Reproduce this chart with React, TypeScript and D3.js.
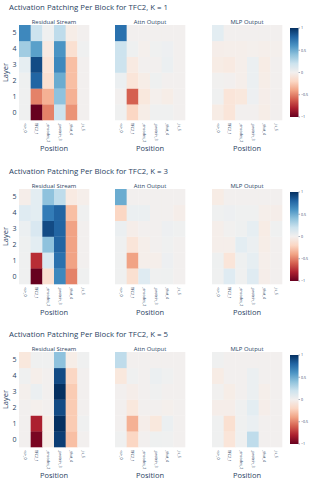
import React from "react";
import * as d3 from "d3";

const W = 314;
const H = 487;

const titles = [
  "Activation Patching Per Block for TFC2, K = 1",
  "Activation Patching Per Block for TFC2, K = 3",
  "Activation Patching Per Block for TFC2, K = 5",
];
const panelTitles = ["Residual Stream", "Attn Output", "MLP Output"];
const positions = ["<s>_0", "TFC2_1", "_encodes_2", "_protein_3", "_that_4", "_is_5"];
const layers = [0, 1, 2, 3, 4, 5];
const cbTicks = [1, 0.5, 0, -0.5, -1];

// rows: layer 0 .. layer 5
const resid1 = [
  [0.02, -1.0, -0.5, 0.2, -0.45, 0.0],
  [0.02, -0.5, -0.35, 0.4, -0.35, 0.0],
  [0.03, 0.8, -0.15, 0.5, -0.3, 0.0],
  [0.08, 0.9, -0.12, 0.65, -0.3, 0.0],
  [0.35, 0.55, -0.08, 0.6, -0.15, 0.02],
  [0.65, 0.2, 0.02, 0.25, -0.05, 0.0],
];
const attn1 = [
  [0.02, -0.2, -0.05, 0.02, 0.02, 0.0],
  [0.0, -0.6, -0.1, -0.02, -0.05, 0.0],
  [0.05, -0.12, -0.05, 0.03, 0.0, 0.0],
  [0.2, -0.08, 0.0, 0.0, 0.05, 0.0],
  [0.2, 0.03, -0.02, 0.02, 0.04, 0.0],
  [0.75, 0.0, 0.0, 0.0, 0.0, 0.0],
];
const mlp1 = [
  [-0.06, -0.12, 0.0, 0.0, -0.05, 0.0],
  [0.02, -0.12, -0.1, 0.04, -0.04, 0.0],
  [0.01, 0.0, -0.03, 0.05, -0.05, 0.0],
  [-0.06, -0.08, -0.03, 0.05, -0.06, 0.0],
  [-0.04, -0.03, -0.03, -0.02, -0.03, -0.02],
  [0.1, 0.0, 0.0, 0.0, 0.0, 0.0],
];

const resid3 = [
  [0.02, -1.0, -0.15, 0.65, -0.5, 0.02],
  [0.02, -0.75, 0.15, 0.75, -0.4, 0.0],
  [0.03, 0.1, 0.4, 0.8, -0.4, 0.0],
  [0.05, 0.15, 0.9, 0.8, -0.4, 0.0],
  [0.12, 0.1, 0.7, 0.8, -0.3, 0.02],
  [-0.04, 0.1, 0.4, 0.25, -0.08, -0.03],
];
const attn3 = [
  [0.02, -0.15, 0.12, 0.02, 0.03, 0.0],
  [0.02, -0.4, -0.03, -0.03, 0.04, 0.0],
  [0.02, -0.12, -0.03, 0.0, 0.02, 0.0],
  [0.05, -0.04, 0.0, 0.0, 0.04, 0.02],
  [-0.2, 0.05, 0.05, 0.0, 0.0, -0.04],
  [0.5, 0.0, 0.0, 0.0, 0.0, 0.0],
];
const mlp3 = [
  [0.02, 0.12, 0.02, 0.12, -0.04, 0.0],
  [0.03, -0.12, 0.03, 0.08, -0.03, 0.0],
  [-0.03, -0.03, 0.1, 0.05, -0.05, 0.0],
  [-0.03, 0.01, 0.03, 0.08, -0.06, 0.02],
  [0.02, 0.04, 0.02, 0.02, -0.03, -0.04],
  [-0.06, 0.0, 0.0, 0.0, 0.0, 0.0],
];

const resid5 = [
  [0.0, -0.95, -0.05, 0.95, -0.3, 0.0],
  [0.0, -0.8, -0.05, 1.05, -0.25, 0.02],
  [0.0, -0.02, 0.0, 0.9, -0.25, 0.0],
  [-0.02, 0.05, 0.0, 1.0, -0.25, 0.0],
  [0.02, -0.03, 0.0, 0.9, -0.2, 0.0],
  [-0.1, 0.02, 0.02, 0.4, -0.05, 0.02],
];
const attn5 = [
  [0.02, -0.2, 0.0, 0.03, 0.02, 0.0],
  [0.0, -0.35, -0.04, -0.1, 0.05, 0.0],
  [0.0, -0.1, 0.0, 0.0, -0.02, 0.0],
  [0.0, -0.04, 0.0, 0.02, 0.0, 0.0],
  [-0.1, 0.02, 0.0, 0.05, 0.02, 0.0],
  [0.25, 0.0, 0.0, 0.0, 0.0, 0.0],
];
const mlp5 = [
  [0.02, -0.12, 0.02, 0.25, 0.0, 0.0],
  [0.02, -0.15, 0.02, 0.06, 0.0, 0.0],
  [-0.04, -0.04, 0.02, 0.1, -0.04, 0.0],
  [0.01, -0.05, 0.0, 0.05, -0.03, 0.0],
  [-0.06, 0.0, 0.0, 0.05, 0.0, 0.0],
  [0.02, 0.0, 0.0, 0.0, 0.0, 0.0],
];

const figures = [
  [resid1, attn1, mlp1],
  [resid3, attn3, mlp3],
  [resid5, attn5, mlp5],
];

const figTops = [0, 164, 327];
const panelX: [number, number][] = [
  [19, 89],
  [115, 185],
  [212, 282],
];
const HM_TOP = 25;
const HM_BOT = 120;
const FONT = "'Open Sans', sans-serif";
const TXT = "#2a3f5f";

const color = d3.scaleSequential(d3.interpolateRdBu).domain([-1, 1]);

function Figure({ idx }: { idx: number }) {
  const top = figTops[idx];
  const data = figures[idx];
  const y = d3.scaleBand<number>().domain([...layers].reverse()).range([HM_TOP, HM_BOT]);
  const cbY = d3.scaleLinear().domain([-1, 1]).range([117, 28]);
  const gid = `cb${idx}`;
  return (
    <g transform={`translate(0,${top})`} fontFamily={FONT}>
      <defs>
        <linearGradient id={gid} x1="0" y1="1" x2="0" y2="0">
          {d3.range(0, 1.0001, 0.1).map((t) => (
            <stop key={t} offset={t} stopColor={color(-1 + 2 * t)} />
          ))}
        </linearGradient>
      </defs>
      <text x={9} y={9.5} fontSize={7.8} fill={TXT}>
        {titles[idx]}
      </text>
      <text
        transform={`translate(7.5,${(HM_TOP + HM_BOT) / 2}) rotate(-90)`}
        textAnchor="middle"
        fontSize={7.5}
        fill={TXT}
      >
        Layer
      </text>
      {layers.map((l) => (
        <text
          key={l}
          x={16.5}
          y={(y(l) as number) + y.bandwidth() / 2 + 2.5}
          textAnchor="end"
          fontSize={7}
          fill={TXT}
        >
          {l}
        </text>
      ))}
      {data.map((mat, p) => {
        const x = d3.scaleBand<string>().domain(positions).range(panelX[p]);
        const cx = (panelX[p][0] + panelX[p][1]) / 2;
        return (
          <g key={p}>
            <text x={cx} y={23.5} textAnchor="middle" fontSize={5.9} fill={TXT}>
              {panelTitles[p]}
            </text>
            {mat.map((row, li) =>
              row.map((v, ci) => (
                <rect
                  key={`${li}-${ci}`}
                  x={x(positions[ci])}
                  y={y(layers[li])}
                  width={x.bandwidth() + 0.3}
                  height={y.bandwidth() + 0.3}
                  fill={color(Math.max(-1, Math.min(1, v)))}
                />
              ))
            )}
            {positions.map((pos) => (
              <text
                key={pos}
                transform={`translate(${(x(pos) as number) + x.bandwidth() / 2 - 1.2},${HM_BOT + 3}) rotate(90)`}
                fontSize={3.6}
                fill={TXT}
                textAnchor="start"
              >
                {pos}
              </text>
            ))}
            <text x={cx} y={150.5} textAnchor="middle" fontSize={7.5} fill={TXT}>
              Position
            </text>
          </g>
        );
      })}
      <rect x={290} y={28} width={8.5} height={89} fill={`url(#${gid})`} />
      {cbTicks.map((t) => (
        <g key={t}>
          <line x1={298.5} x2={300} y1={cbY(t)} y2={cbY(t)} stroke={TXT} strokeWidth={0.4} />
          <text x={301} y={cbY(t) + 1.3} fontSize={3.6} fill={TXT}>
            {t < 0 ? `\u2212${Math.abs(t)}` : `${t}`}
          </text>
        </g>
      ))}
    </g>
  );
}

export default function App() {
  return (
    <svg
      width={W}
      height={H}
      style={{ position: "absolute", left: 0, top: 0, background: "#fff" }}
    >
      <rect width={W} height={H} fill="#fff" />
      {[0, 1, 2].map((i) => (
        <Figure key={i} idx={i} />
      ))}
    </svg>
  );
}
